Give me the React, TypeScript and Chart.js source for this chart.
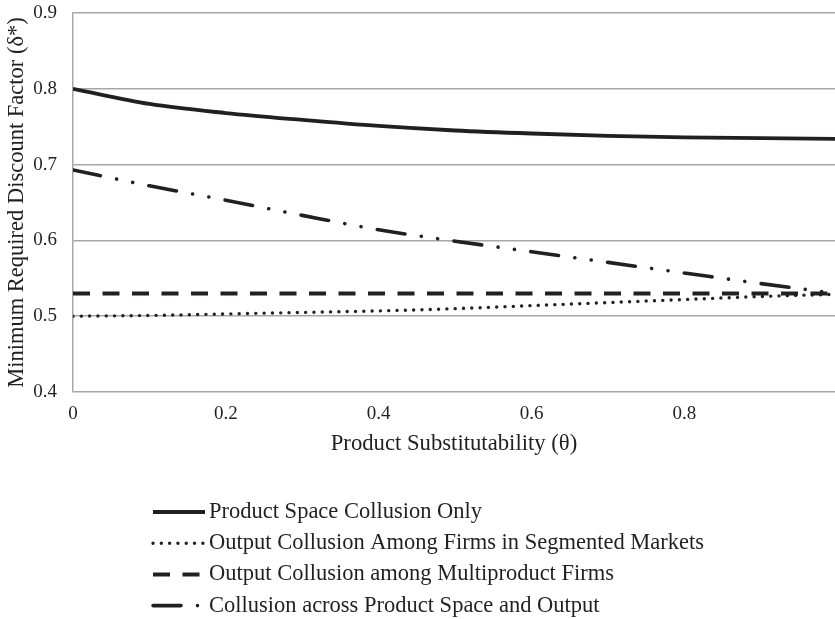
import React, { useRef, useEffect } from "react";
import Chart from "chart.js/auto";

// product substitutability (theta) sampled every 0.1
const thetaValues = [0, 0.1, 0.2, 0.3, 0.4, 0.5, 0.6, 0.7, 0.8, 0.9, 1.0];

const productSpaceOnly = [0.8, 0.78, 0.768, 0.759, 0.751, 0.745, 0.741, 0.738, 0.736, 0.735, 0.734];
const segmentedMarkets = [0.5, 0.501, 0.503, 0.505, 0.507, 0.51, 0.514, 0.518, 0.522, 0.526, 0.529];
const multiproductFirms = [0.53, 0.53, 0.53, 0.53, 0.53, 0.53, 0.53, 0.53, 0.53, 0.53, 0.53];
const acrossSpaceAndOutput = [0.693, 0.672, 0.653, 0.633, 0.614, 0.599, 0.585, 0.571, 0.557, 0.543, 0.53];

const seriesLabels = [
    "Product Space Collusion Only",
    "Output Collusion Among Firms in Segmented Markets",
    "Output Collusion among Multiproduct Firms",
    "Collusion across Product Space and Output",
];

const xTickValues = [0, 0.2, 0.4, 0.6, 0.8];
const yTickValues = [0.4, 0.5, 0.6, 0.7, 0.8, 0.9];

const serif = "'Liberation Serif', 'Times New Roman', serif";
const ink = "#231f20";
const gridGray = "#a7a7a7";

const toPoints = (ys: number[]) => thetaValues.map((x, i) => ({ x, y: ys[i] }));

// legend stacked under the plot, drawn with each dataset's own stroke style
const stackedLegend = {
    id: "stackedLegend",
    afterDraw(chart: any) {
        const { ctx, chartArea } = chart;
        ctx.save();
        chart.data.datasets.forEach((ds: any, i: number) => {
            const y = chartArea.bottom + 120 + i * 31.2;
            const x0 = chartArea.left + 80;
            ctx.beginPath();
            ctx.strokeStyle = ds.borderColor;
            ctx.lineWidth = ds.borderWidth;
            ctx.lineCap = ds.borderCapStyle || "butt";
            ctx.setLineDash(ds.borderDash || []);
            ctx.moveTo(x0, y);
            ctx.lineTo(x0 + 52, y);
            ctx.stroke();
            ctx.setLineDash([]);
            ctx.fillStyle = ink;
            ctx.font = `22.5px ${serif}`;
            ctx.textBaseline = "middle";
            ctx.textAlign = "left";
            ctx.fillText(ds.label, x0 + 56, y);
        });
        ctx.restore();
    },
};

const App: React.FC = () => {
    const canvasRef = useRef<HTMLCanvasElement | null>(null);
    const chartRef = useRef<Chart | null>(null);

    useEffect(() => {
        if (!canvasRef.current) return;
        if (chartRef.current) chartRef.current.destroy();

        chartRef.current = new Chart(canvasRef.current, {
            type: "line",
            data: {
                datasets: [
                    {
                        label: seriesLabels[0],
                        data: toPoints(productSpaceOnly),
                        borderColor: ink,
                        borderWidth: 3.8,
                        borderCapStyle: "butt",
                    },
                    {
                        label: seriesLabels[1],
                        data: toPoints(segmentedMarkets),
                        borderColor: ink,
                        borderWidth: 3.4,
                        borderCapStyle: "round",
                        borderDash: [0.01, 8.3],
                    },
                    {
                        label: seriesLabels[2],
                        data: toPoints(multiproductFirms),
                        borderColor: ink,
                        borderWidth: 4,
                        borderCapStyle: "butt",
                        borderDash: [17, 12.5],
                    },
                    {
                        label: seriesLabels[3],
                        data: toPoints(acrossSpaceAndOutput),
                        borderColor: ink,
                        borderWidth: 3.6,
                        borderCapStyle: "round",
                        borderDash: [28, 16.5, 0.01, 16.5, 0.01, 16.5],
                    },
                ] as any,
            },
            options: {
                animation: false,
                responsive: true,
                maintainAspectRatio: false,
                layout: { padding: { top: 13, right: 0, bottom: 157, left: 0 } },
                elements: {
                    point: { radius: 0 },
                    line: { cubicInterpolationMode: "monotone", fill: false },
                },
                plugins: {
                    legend: { display: false },
                    tooltip: { enabled: false },
                },
                scales: {
                    x: {
                        type: "linear",
                        min: 0,
                        max: 0.997,
                        afterBuildTicks: (axis: any) => {
                            axis.ticks = xTickValues.map((value) => ({ value }));
                        },
                        afterFit: (axis: any) => {
                            axis.height = 70;
                            axis.paddingLeft = 0;
                            axis.paddingRight = 0;
                        },
                        grid: { display: false, drawTicks: false },
                        border: { display: false },
                        ticks: {
                            padding: 11,
                            maxRotation: 0,
                            color: ink,
                            font: { family: serif, size: 19 },
                        },
                        title: {
                            display: true,
                            text: "Product Substitutability (θ)",
                            color: ink,
                            font: { family: serif, size: 22.7 },
                            padding: { top: 0, bottom: 4 },
                        },
                    },
                    y: {
                        min: 0.4,
                        max: 0.9,
                        afterBuildTicks: (axis: any) => {
                            axis.ticks = yTickValues.map((value) => ({ value }));
                        },
                        afterFit: (axis: any) => {
                            axis.width = 73;
                            axis.paddingTop = 0;
                            axis.paddingBottom = 0;
                        },
                        grid: { color: gridGray, lineWidth: 1.5, drawTicks: false },
                        border: { display: true, color: gridGray, width: 1.5 },
                        ticks: {
                            padding: 16,
                            color: ink,
                            font: { family: serif, size: 19 },
                            callback: (v: any) => Number(v).toFixed(1),
                        },
                        title: {
                            display: true,
                            text: "Minimum Required Discount Factor (δ*)",
                            color: ink,
                            font: { family: serif, size: 22.5 },
                            padding: { top: 4, bottom: 0 },
                        },
                    },
                },
            },
            plugins: [stackedLegend],
        });

        return () => {
            if (chartRef.current) {
                chartRef.current.destroy();
                chartRef.current = null;
            }
        };
    }, []);

    return (
        <div style={{ position: "fixed", left: 0, top: 0, width: 835, height: 619, background: "#fff" }}>
            <canvas ref={canvasRef}></canvas>
        </div>
    );
};

export default App;
